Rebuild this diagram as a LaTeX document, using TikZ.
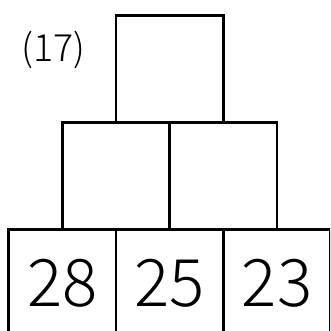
\documentclass[tikz,border=0pt]{standalone}
\usepackage{fontspec}
\setmainfont{Noto Sans CJK JP Light}
\usepackage{tikz}
\usetikzlibrary{positioning}
\tikzset{
  pyrcell/.style={draw,line width=2.4pt,outer sep=0pt,inner sep=0pt,minimum width=3.22cm,minimum height=3.21cm,font=\fontsize{56}{56}\selectfont},
  pyrnum/.style={font=\fontsize{32}{32}\selectfont,inner sep=0pt},
}
\begin{document}
\begin{tikzpicture}
 % number pyramid
\useasboundingbox (0,0) rectangle (9.9,9.93);
\clip (0,0) rectangle (9.9,9.93);
\node[pyrcell] (b1) at (1.87,1.44){28};
\node[pyrcell,right=0pt of b1] (b2){25};
\node[pyrcell,right=0pt of b2] (b3){23};
\node[pyrcell,above=0pt of b1.north east] (m1){};
\node[pyrcell,right=0pt of m1] (m2){};
\node[pyrcell,above=0pt of m1.north east] (t){};
\node[pyrnum] (lbl) at (1.6,8.43){(17)};
\end{tikzpicture}
\end{document}
